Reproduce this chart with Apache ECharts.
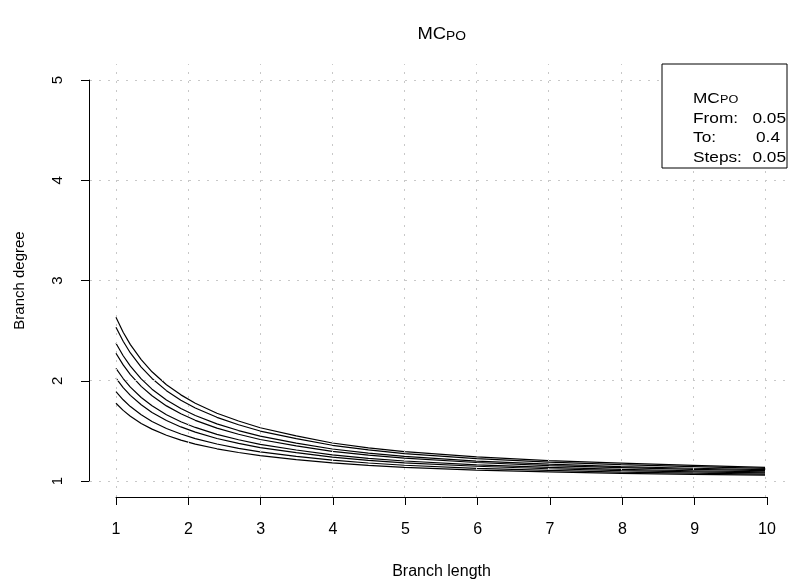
<!DOCTYPE html>
<html>
<head>
<meta charset="utf-8">
<script src="https://cdn.jsdelivr.net/npm/echarts@6/dist/echarts.min.js"></script>
<style>
  html, body { margin: 0; padding: 0; background: #ffffff; }
  #chart { width: 791px; height: 586px; }
</style>
</head>
<body>
<div id="chart"></div>
<script>
// Branch length sample points shared by every curve
var branchLength = [1, 1.1, 1.2, 1.35, 1.5, 1.7, 1.9, 2.1, 2.4, 2.7, 3, 3.5, 4, 4.5, 5, 6, 7, 8, 9, 10];

// Branch degree for each MC_PO value (0.05 .. 0.4, step 0.05)
var degree005 = [1.775, 1.704, 1.646, 1.574, 1.517, 1.456, 1.408, 1.368, 1.321, 1.284, 1.252, 1.213, 1.180, 1.155, 1.135, 1.108, 1.090, 1.075, 1.065, 1.058];
var degree010 = [1.891, 1.810, 1.742, 1.660, 1.594, 1.524, 1.469, 1.423, 1.369, 1.326, 1.290, 1.245, 1.207, 1.179, 1.157, 1.126, 1.105, 1.089, 1.078, 1.069];
var degree015 = [2.025, 1.932, 1.854, 1.760, 1.684, 1.603, 1.539, 1.487, 1.424, 1.375, 1.333, 1.282, 1.238, 1.206, 1.181, 1.147, 1.122, 1.104, 1.091, 1.081];
var degree020 = [2.124, 2.022, 1.936, 1.833, 1.750, 1.661, 1.591, 1.534, 1.465, 1.411, 1.365, 1.309, 1.261, 1.226, 1.199, 1.161, 1.135, 1.116, 1.102, 1.090];
var degree025 = [2.274, 2.158, 2.061, 1.944, 1.850, 1.749, 1.670, 1.605, 1.527, 1.466, 1.414, 1.350, 1.296, 1.257, 1.227, 1.184, 1.154, 1.133, 1.116, 1.103];
var degree030 = [2.374, 2.249, 2.145, 2.018, 1.916, 1.808, 1.723, 1.653, 1.569, 1.503, 1.447, 1.378, 1.319, 1.278, 1.245, 1.198, 1.167, 1.144, 1.127, 1.113];
var degree035 = [2.533, 2.394, 2.277, 2.136, 2.023, 1.901, 1.806, 1.728, 1.635, 1.561, 1.498, 1.422, 1.356, 1.310, 1.273, 1.222, 1.188, 1.163, 1.144, 1.126];
var degree040 = [2.633, 2.484, 2.360, 2.210, 2.089, 1.960, 1.859, 1.776, 1.676, 1.598, 1.531, 1.449, 1.379, 1.331, 1.293, 1.240, 1.203, 1.178, 1.155, 1.135];
var curves = [degree005, degree010, degree015, degree020, degree025, degree030, degree035, degree040];

// Axis ticks and gridline positions
var xTicks = [1, 2, 3, 4, 5, 6, 7, 8, 9, 10];
var yTicks = [1, 2, 3, 4, 5];

// Legend box text
var legendTitle = ['MC', 'PO'];
var legendLabels = ['From:', 'To:', 'Steps:'];
var legendValues = ['0.05', '0.4', '0.05'];

var FONT = "'Liberation Sans', Arial, Helvetica, sans-serif";
var STRETCH = 1.15;   // text on this device is drawn slightly wide
var chart = echarts.init(document.getElementById('chart'), null, { renderer: 'canvas' });

var gridStyle = { color: '#c8c8c8', width: 1, type: [2, 7] };
var series = [];
// Dotted gridlines spanning the whole plotting region
var gridMarks = [];
xTicks.forEach(function (v) { gridMarks.push({ xAxis: v }); });
yTicks.forEach(function (v) { gridMarks.push({ yAxis: v }); });
series.push({
  type: 'line', xAxisIndex: 0, yAxisIndex: 0, data: [], silent: true, z: 1,
  markLine: {
    silent: true, symbol: ['none', 'none'], animation: false,
    label: { show: false }, lineStyle: gridStyle, data: gridMarks
  }
});
curves.forEach(function (ys, i) {
  series.push({
    type: 'line', name: 'curve' + i, xAxisIndex: 0, yAxisIndex: 0, z: 3,
    showSymbol: false, symbol: 'none', smooth: false,
    lineStyle: { color: '#000000', width: 1.2 },
    data: branchLength.map(function (x, k) { return [x, ys[k]]; })
  });
});
// The last vertical gridline is drawn again on top of the legend box
series.push({
  type: 'line', xAxisIndex: 0, yAxisIndex: 0, data: [], silent: true, z: 200,
  markLine: {
    silent: true, symbol: ['none', 'none'], animation: false,
    label: { show: false }, lineStyle: gridStyle,
    data: [{ xAxis: xTicks[xTicks.length - 1] }]
  }
});

function txt(x, y, s, size, align) {
  return { type: 'text', x: x, y: y, scaleX: STRETCH, z: 101,
    style: { text: s, font: size + 'px ' + FONT, fill: '#000', align: align || 'left', verticalAlign: 'alphabetic' } };
}

var legendGraphics = [
  { type: 'rect', shape: { x: 662, y: 64, width: 125, height: 104 },
    style: { fill: '#ffffff', stroke: '#000000', lineWidth: 1 }, z: 100 },
  txt(693, 91, legendTitle[0], 15),
  txt(720, 94, legendTitle[1], 11)
];
var valueRight = [786, 780, 786];
legendLabels.forEach(function (lab, i) {
  var y = 111 + i * 19.7;
  legendGraphics.push(txt(693, y, lab, 15));
  legendGraphics.push(txt(valueRight[i], y, legendValues[i], 15, 'right'));
});

// Main title: MC with subscript PO
var titleGraphics = [
  txt(446, 27, 'MC', 16, 'right'),
  txt(446, 31, 'PO', 12, 'left')
];

var axisTextX = { color: '#000000', fontSize: 16, fontFamily: FONT };
var axisTextY = { color: '#000000', fontSize: 15, fontFamily: FONT };

chart.setOption({
  animation: false,
  backgroundColor: '#ffffff',
  grid: [
    { left: 90, top: 64, width: 703, height: 433, containLabel: false },
    { left: 116, top: 80, width: 651, height: 401, containLabel: false }
  ],
  xAxis: [
    { gridIndex: 0, type: 'value', min: 0.64, max: 10.36, show: false },
    { gridIndex: 1, type: 'value', min: 1, max: 10, interval: 1, position: 'bottom', offset: 16,
      axisLine: { show: true, onZero: false, lineStyle: { color: '#000', width: 1 } },
      axisTick: { show: true, length: 8, lineStyle: { color: '#000', width: 1 } },
      axisLabel: Object.assign({ margin: 25, showMinLabel: true, showMaxLabel: true }, axisTextX),
      splitLine: { show: false },
      name: 'Branch length', nameLocation: 'middle', nameGap: 67,
      nameTextStyle: axisTextX }
  ],
  yAxis: [
    { gridIndex: 0, type: 'value', min: 0.84, max: 5.16, show: false },
    { gridIndex: 1, type: 'value', min: 1, max: 5, interval: 1, position: 'left', offset: 27,
      axisLine: { show: true, onZero: false, lineStyle: { color: '#000', width: 1 } },
      axisTick: { show: true, length: 8, lineStyle: { color: '#000', width: 1 } },
      axisLabel: Object.assign({ margin: 24, rotate: 90, showMinLabel: true, showMaxLabel: true }, axisTextY),
      splitLine: { show: false },
      name: 'Branch degree', nameLocation: 'middle', nameGap: 62, nameRotate: 90,
      nameTextStyle: axisTextY }
  ],
  graphic: { elements: titleGraphics.concat(legendGraphics) },
  series: series
});
</script>
</body>
</html>
